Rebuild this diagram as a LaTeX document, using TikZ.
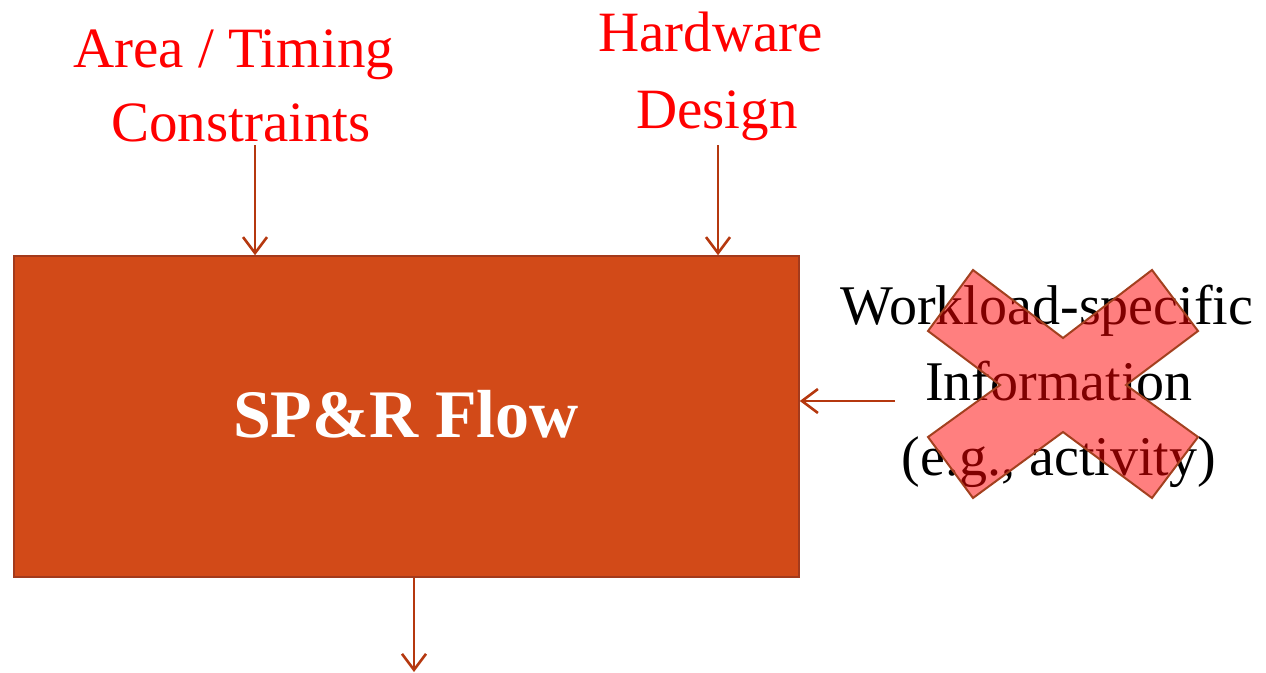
\documentclass[tikz,border=0pt]{standalone}
\usepackage{fontspec}
\setmainfont{Liberation Serif}
\usetikzlibrary{arrows.meta}
\definecolor{boxfill}{HTML}{D24A18}
\definecolor{boxline}{HTML}{A33A1C}
\definecolor{arrcol}{HTML}{B5380F}
\definecolor{crossline}{HTML}{A3401F}
\tikzset{
  redtxt/.style={text=red, font=\fontsize{57}{64}\selectfont, anchor=base, inner sep=0pt},
  blktxt/.style={text=black, font=\fontsize{56}{64}\selectfont, anchor=base, inner sep=0pt},
  arr/.style={draw=arrcol, line width=2.6pt, -{Straight Barb[length=16pt,width=24pt]}},
}
\begin{document}
\begin{tikzpicture}[x=1pt,y=-1pt]
\useasboundingbox (0,0) rectangle (1266,672);
% box
\node[draw=boxline, line width=1.5pt, fill=boxfill, minimum width=785pt, minimum height=321pt, inner sep=0pt]
  (box) at (406.5,416.5) {};
\node[text=white, font=\fontsize{68}{74}\selectfont\bfseries, anchor=base, inner sep=0pt] (flow) at (406,437) {SP\&R Flow};
% red labels
\node[redtxt] (area) at (233.5,67) {Area / Timing};
\node[redtxt] (cons) at (241,141) {Constraints};
\node[redtxt] (hw) at (710.5,51) {Hardware};
\node[redtxt] (des) at (717,128) {Design};
% black labels
\node[blktxt] (wl) at (1047,324) {Workload-specific};
\node[blktxt] (info) at (1059,400) {Information};
\node[blktxt] (eg) at (1059,475) {(e.g., activity)};
% arrow anchors
\coordinate (a1) at (255,145);
\coordinate (a2) at (718,145);
\coordinate (a3) at (895,401);
\coordinate (a4) at (414,672);
\draw[arr] (a1) -- (a1 |- box.north);
\draw[arr] (a2) -- (a2 |- box.north);
\draw[arr] (a3) -- (a3 -| box.east);
\draw[arr] (box.south -| a4) -- (a4);
% cross
\fill[red, fill opacity=0.5] (973,270) -- (1063,338) -- (1152,270) -- (1198,331) -- (1126,385) -- (1198,437) -- (1152,498) -- (1063,432) -- (973,498) -- (928,437) -- (1000,385) -- (928,331) -- cycle;
\draw[crossline, line width=2pt, line join=miter] (973,270) -- (1063,338) -- (1152,270) -- (1198,331) -- (1126,385) -- (1198,437) -- (1152,498) -- (1063,432) -- (973,498) -- (928,437) -- (1000,385) -- (928,331) -- cycle;
\end{tikzpicture}
\end{document}
